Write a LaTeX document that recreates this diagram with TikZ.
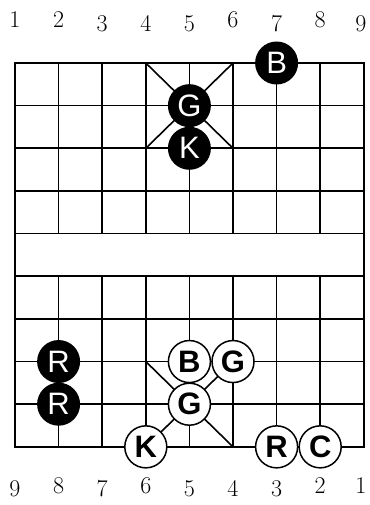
\documentclass[tikz,border=0pt]{standalone}
\usepackage{fontspec}
\newfontfamily\piecefont{Liberation Sans}
\newcommand\numfnt{\fontsize{24pt}{28pt}\selectfont\addfontfeatures{FakeBold=1.2}}
\newcommand\bpfnt{\piecefont\fontsize{31pt}{34pt}\selectfont}
\newcommand\wpfnt{\piecefont\bfseries\fontsize{31pt}{34pt}\selectfont}
\begin{document}
\begin{tikzpicture}[x=1pt,y=-1pt,
  gridline/.style={line width=1.6pt, line cap=rect},
  numlabel/.style={anchor=base, inner sep=0pt, font=\numfnt},
  blackpiece/.style={circle, fill=black, minimum size=43pt, inner sep=0pt, text=white,
    font=\bpfnt},
  whitepiece/.style={circle, draw=black, line width=1.5pt, fill=white, minimum size=42pt, inner sep=0pt,
    font=\wpfnt}]
\useasboundingbox (0,0) rectangle (369,505);
\fill[white] (0,0) rectangle (369,505);
\foreach \i in {0,...,8}{
  \foreach \j in {0,...,9}{
    \coordinate (p-\i-\j) at ({15+43.6*\i},{63+42.65*\j});
  }
}
% horizontal lines
\foreach \j in {0,...,9}{ \draw[gridline] (p-0-\j) -- (p-8-\j); }
% border verticals
\draw[gridline] (p-0-0) -- (p-0-9);
\draw[gridline] (p-8-0) -- (p-8-9);
% interior verticals
\foreach \i in {1,...,7}{
  \draw[gridline] (p-\i-0) -- (p-\i-4);
  \draw[gridline] (p-\i-5) -- (p-\i-9);
}
% palaces
\draw[gridline] (p-3-0) -- (p-5-2);
\draw[gridline] (p-5-0) -- (p-3-2);
\draw[gridline] (p-3-7) -- (p-5-9);
\draw[gridline] (p-5-7) -- (p-3-9);
% black pieces
\node[blackpiece] (bB) at (p-6-0) {B};
\node[blackpiece] (bG) at (p-4-1) {G};
\node[blackpiece] (bK) at (p-4-2) {K};
\node[blackpiece] (bR1) at (p-1-7) {R};
\node[blackpiece] (bR2) at (p-1-8) {R};
% white pieces
\node[whitepiece] (wB) at (p-4-7) {B};
\node[whitepiece] (wG1) at (p-5-7) {G};
\node[whitepiece] (wG2) at (p-4-8) {G};
\node[whitepiece] (wK) at (p-3-9) {K};
\node[whitepiece] (wR) at (p-6-9) {R};
\node[whitepiece] (wC) at (p-7-9) {C};
% top labels
\node[numlabel] (t1) at (15,28) {1};
\node[numlabel] (t2) at (58.6,28) {2};
\node[numlabel] (t3) at (102.2,32) {3};
\node[numlabel] (t4) at (145.8,32) {4};
\node[numlabel] (t5) at (189.4,32) {5};
\node[numlabel] (t6) at (233,28) {6};
\node[numlabel] (t7) at (276.6,32) {7};
\node[numlabel] (t8) at (320.2,28) {8};
\node[numlabel] (t9) at (361,32) {9};
% bottom labels
\node[numlabel] (b9) at (15,496) {9};
\node[numlabel] (b8) at (58.6,493) {8};
\node[numlabel] (b7) at (102.2,496) {7};
\node[numlabel] (b6) at (145.8,493) {6};
\node[numlabel] (b5) at (189.4,496) {5};
\node[numlabel] (b4) at (233,496) {4};
\node[numlabel] (b3) at (276.6,496) {3};
\node[numlabel] (b2) at (320.2,493) {2};
\node[numlabel] (b1) at (361,493) {1};
\end{tikzpicture}
\end{document}
